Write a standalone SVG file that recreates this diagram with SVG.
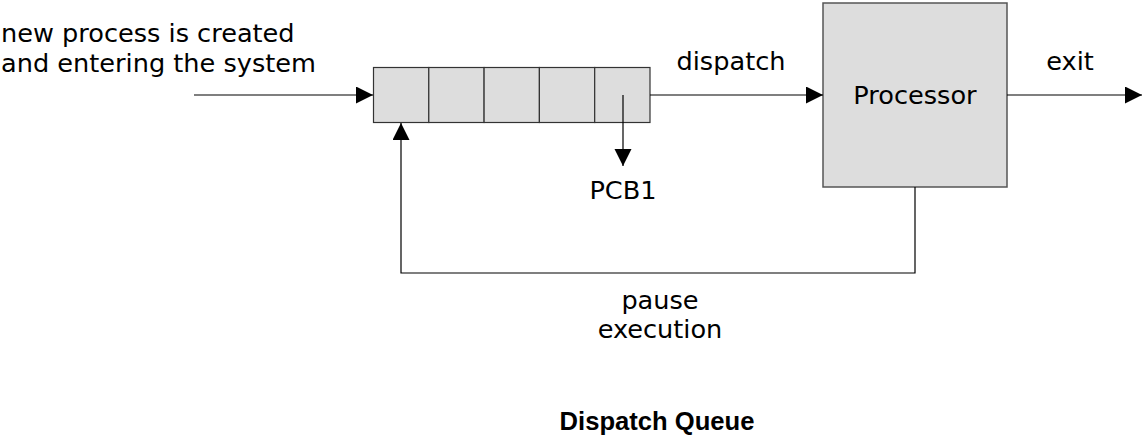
<svg xmlns="http://www.w3.org/2000/svg" width="1145" height="439" viewBox="0 0 1145 439">
<style>
.t{font-family:"DejaVu Sans",sans-serif;font-size:25.6px;fill:#000}
.c{text-anchor:middle}
.b{font-family:"Liberation Sans",Arial,sans-serif;font-size:25.6px;font-weight:bold;fill:#000;text-anchor:middle}
.cell{fill:#dddddd;stroke:#333;stroke-width:1.2}
.proc{fill:#dddddd;stroke:#555;stroke-width:1.5}
.ln{fill:none;stroke:#000;stroke-width:1.2}
</style>
<defs>
<marker id="ah" markerUnits="userSpaceOnUse" markerWidth="18" markerHeight="18" refX="17" refY="8.5" orient="auto">
<path d="M0,0 L17,8.5 L0,17 Z" fill="#000"/>
</marker>
</defs>
<rect width="1145" height="439" fill="#fff"/>
<g id="queue">
<rect class="cell" x="373.5" y="67.5" width="55.3" height="55"/>
<rect class="cell" x="428.8" y="67.5" width="55.3" height="55"/>
<rect class="cell" x="484.1" y="67.5" width="55.3" height="55"/>
<rect class="cell" x="539.4" y="67.5" width="55.3" height="55"/>
<rect class="cell" x="594.7" y="67.5" width="55.3" height="55"/>
</g>
<g id="processor">
<rect class="proc" x="823" y="3" width="184" height="184"/>
<text class="t c" x="915" y="104">Processor</text>
</g>
<g id="connectors">
<line class="ln" x1="194" y1="95" x2="373" y2="95" marker-end="url(#ah)"/>
<line class="ln" x1="650" y1="95" x2="823" y2="95" marker-end="url(#ah)"/>
<line class="ln" x1="1007" y1="95" x2="1142" y2="95" marker-end="url(#ah)"/>
<line class="ln" x1="623" y1="95" x2="623" y2="166" marker-end="url(#ah)"/>
<polyline class="ln" points="915,187 915,273 401,273 401,123" marker-end="url(#ah)"/>
</g>
<g id="labels">
<text class="t" x="1" y="42">new process is created</text>
<text class="t" x="1" y="72">and entering the system</text>
<text class="t c" x="731" y="70">dispatch</text>
<text class="t c" x="1070" y="70">exit</text>
<text class="t c" x="623" y="199">PCB1</text>
<text class="t c" x="660" y="309">pause</text>
<text class="t c" x="660" y="338">execution</text>
<text class="b" x="657" y="430">Dispatch Queue</text>
</g>
</svg>
